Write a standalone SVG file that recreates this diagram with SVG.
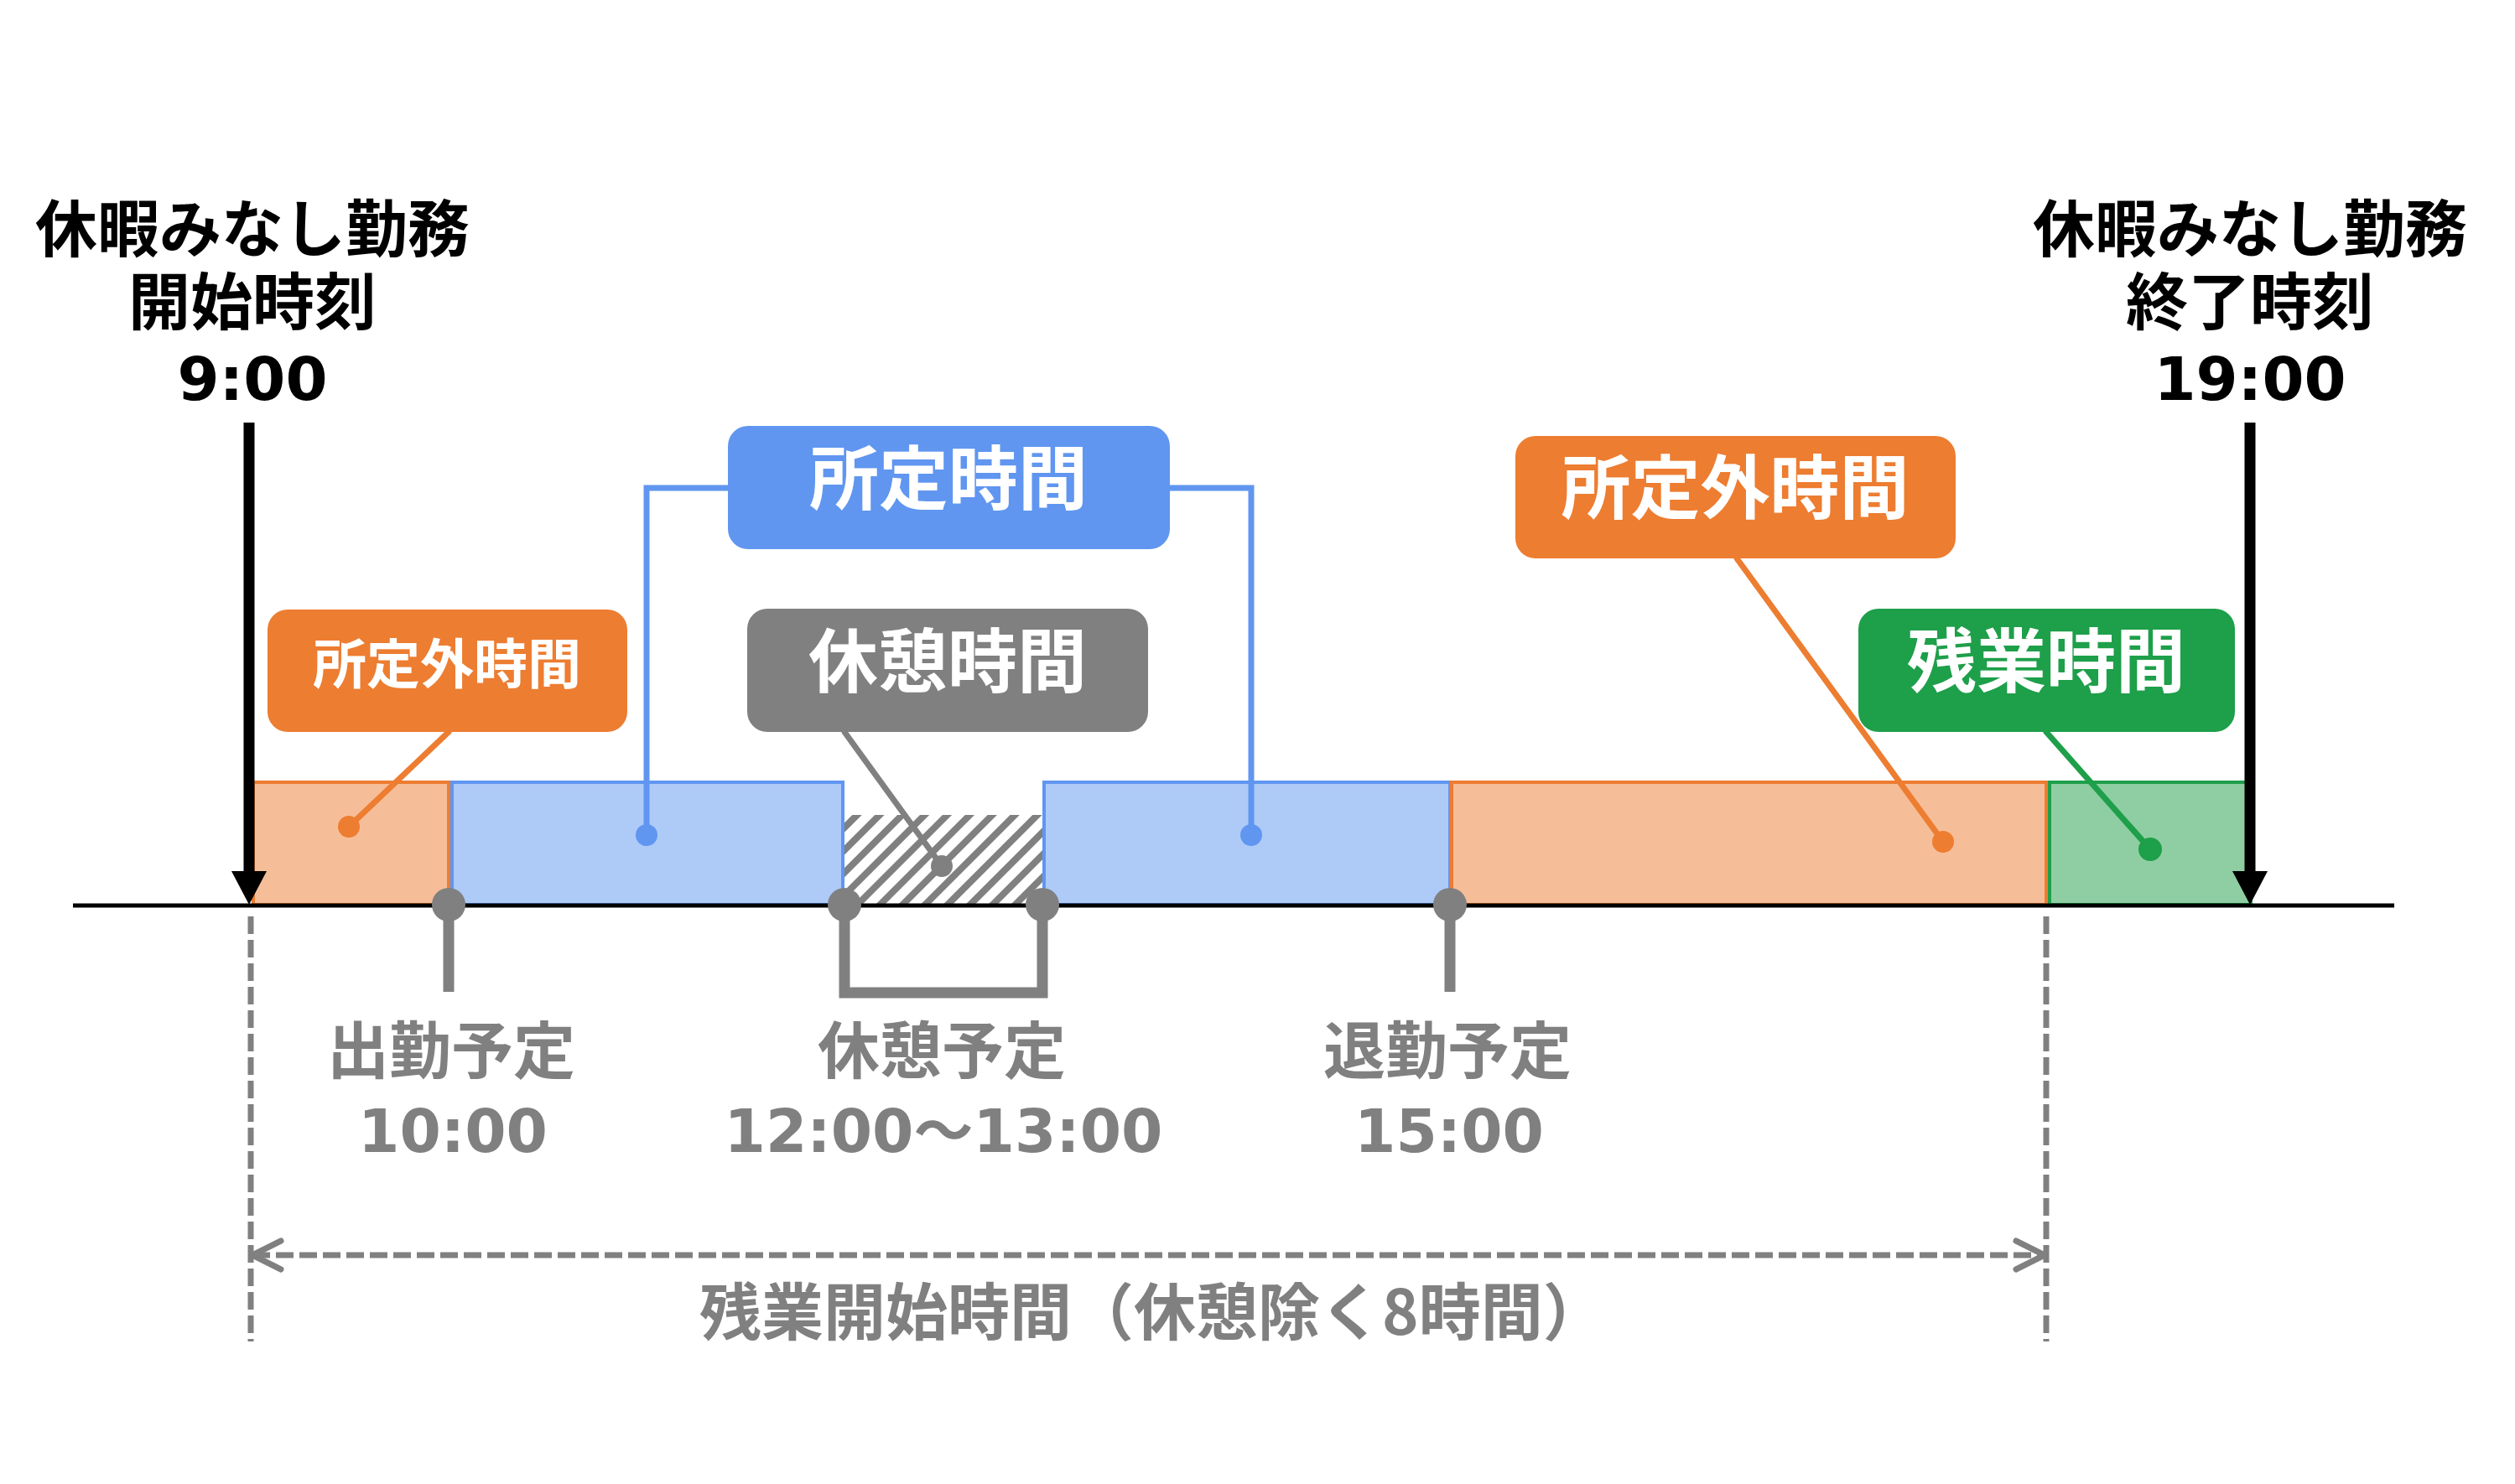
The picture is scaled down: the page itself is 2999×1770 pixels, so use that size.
<svg xmlns="http://www.w3.org/2000/svg" width="2999" height="1770" viewBox="0 0 2999 1770">
<style>
.cjk{font-family:"Noto Sans CJK JP","Noto Sans CJK SC",sans-serif;font-weight:700}
.num{font-family:"DejaVu Sans","Noto Sans CJK JP",sans-serif;font-weight:700}
.blk{fill:#000}
.gry{fill:#808080}
.wht{fill:#fff}
.lbl{font-size:83px;text-anchor:middle}
.mid{text-anchor:middle}
.bar{stroke-width:4}
.org{fill:#F6BE98;stroke:#ED7D31}
.blu{fill:#AECAF7;stroke:#6096F0}
.grn{fill:#8FCEA2;stroke:#1E9F4A}
.dotg{fill:#808080}
.conn{fill:none;stroke-width:7;stroke-linecap:round;stroke-linejoin:miter}
.dash{fill:none;stroke:#808080;stroke-width:7;stroke-dasharray:21 7}
.stem{fill:none;stroke:#808080;stroke-width:13}
</style>
<defs>
<pattern id="hatch" patternUnits="userSpaceOnUse" width="19" height="19" patternTransform="rotate(45)">
<rect x="0" y="0" width="19" height="19" fill="#fff"/>
<rect x="0" y="0" width="8" height="19" fill="#808080"/>
</pattern>
<marker id="blkArrow" markerUnits="userSpaceOnUse" viewBox="0 0 40 42" markerWidth="40" markerHeight="42" refX="1" refY="21" orient="auto">
<path d="M0,0 L40,21 L0,42 Z" fill="#000"/>
</marker>
<marker id="chev" markerUnits="userSpaceOnUse" viewBox="-44 -24 50 48" markerWidth="50" markerHeight="48" refX="0" refY="0" orient="auto-start-reverse">
<path d="M-34,-17 L0,0 L-34,17" fill="none" stroke="#808080" stroke-width="7" stroke-linecap="round" stroke-linejoin="round"/>
</marker>
</defs>
<rect width="2999" height="1770" fill="#fff"/>

<g id="bars">
<rect id="bar-orange1" class="bar org" x="302" y="933" width="233" height="146"/>
<rect id="bar-blue1" class="bar blu" x="539" y="933" width="466" height="146"/>
<rect id="bar-break" x="1007" y="972" width="236" height="107" fill="url(#hatch)"/>
<rect id="bar-blue2" class="bar blu" x="1245" y="933" width="484" height="146"/>
<rect id="bar-orange2" class="bar org" x="1731" y="933" width="709" height="146"/>
<rect id="bar-green" class="bar grn" x="2444" y="933" width="240" height="146"/>
</g>

<g id="connectors">
<path class="conn" stroke="#6096F0" stroke-width="6" d="M771,996 V582 H868"/>
<path class="conn" stroke="#6096F0" stroke-width="6" d="M1395,582 H1492 V996"/>
<line class="conn" stroke="#ED7D31" x1="535" y1="873" x2="416" y2="986"/>
<line class="conn" stroke="#808080" x1="1007" y1="873" x2="1123" y2="1033"/>
<line class="conn" stroke="#ED7D31" x1="2071" y1="666" x2="2317" y2="1004"/>
<line class="conn" stroke="#1E9F4A" x1="2440" y1="873" x2="2564" y2="1013"/>
<path class="stem" d="M535,1079 V1183"/>
<path class="stem" d="M1007,1079 V1184 H1243 V1079"/>
<path class="stem" d="M1729,1079 V1183"/>
<line class="dash" x1="299" y1="1093" x2="299" y2="1600"/>
<line class="dash" x1="2440" y1="1093" x2="2440" y2="1600"/>
<line class="dash" x1="301" y1="1497" x2="2438" y2="1497" marker-start="url(#chev)" marker-end="url(#chev)"/>
<line x1="87" y1="1080" x2="2855" y2="1080" stroke="#000" stroke-width="5"/>
<line x1="297" y1="504" x2="297" y2="1040" stroke="#000" stroke-width="13" marker-end="url(#blkArrow)"/>
<line x1="2683" y1="504" x2="2683" y2="1040" stroke="#000" stroke-width="13" marker-end="url(#blkArrow)"/>
<circle cx="771" cy="996" r="13" fill="#6096F0"/>
<circle cx="1492" cy="996" r="13" fill="#6096F0"/>
<circle cx="416" cy="986" r="13" fill="#ED7D31"/>
<circle cx="1123" cy="1033" r="13" class="dotg"/>
<circle cx="2317" cy="1004" r="13" fill="#ED7D31"/>
<circle cx="2564" cy="1013" r="14" fill="#1E9F4A"/>
<circle cx="535" cy="1079" r="20" class="dotg"/>
<circle cx="1007" cy="1079" r="20" class="dotg"/>
<circle cx="1243" cy="1079" r="20" class="dotg"/>
<circle cx="1729" cy="1079" r="20" class="dotg"/>
</g>

<g id="start-label">
<text class="cjk blk mid" x="301" y="300" font-size="74">休暇みなし勤務</text>
<text class="cjk blk mid" x="301" y="387" font-size="74">開始時刻</text>
<text class="num blk mid" x="301" y="477" font-size="72">9:00</text>
</g>
<g id="end-label">
<text class="cjk blk mid" x="2683" y="300" font-size="74">休暇みなし勤務</text>
<text class="cjk blk mid" x="2683" y="387" font-size="74">終了時刻</text>
<text class="num blk mid" x="2683" y="477" font-size="72">19:00</text>
</g>

<g id="node-shoteigai-small">
<rect x="319" y="727" width="429" height="146" rx="24" fill="#ED7D31"/>
<text class="cjk wht mid" x="533" y="815" font-size="64">所定外時間</text>
</g>
<g id="node-shotei">
<rect x="868" y="508" width="527" height="147" rx="24" fill="#6096F0"/>
<text class="cjk wht lbl" x="1131" y="601">所定時間</text>
</g>
<g id="node-kyukei">
<rect x="891" y="726" width="478" height="147" rx="24" fill="#808080"/>
<text class="cjk wht lbl" x="1130" y="819">休憩時間</text>
</g>
<g id="node-shoteigai">
<rect x="1807" y="520" width="525" height="146" rx="24" fill="#ED7D31"/>
<text class="cjk wht lbl" x="2069" y="612">所定外時間</text>
</g>
<g id="node-zangyo">
<rect x="2216" y="726" width="449" height="147" rx="24" fill="#1E9F4A"/>
<text class="cjk wht lbl" x="2440" y="819">残業時間</text>
</g>

<g id="tick-shukkin">
<text class="cjk gry mid" x="538" y="1280" font-size="74">出勤予定</text>
<text class="num gry mid" x="540" y="1374" font-size="71">10:00</text>
</g>
<g id="tick-kyukei">
<text class="cjk gry mid" x="1123" y="1280" font-size="74">休憩予定</text>
<text class="num gry mid" x="1125" y="1374" font-size="71">12:00～13:00</text>
</g>
<g id="tick-taikin">
<text class="cjk gry mid" x="1726" y="1280" font-size="74">退勤予定</text>
<text class="num gry mid" x="1728" y="1374" font-size="71">15:00</text>
</g>
<g id="span-label">
<text class="cjk gry" x="834" y="1592" font-size="74">残業開始時間（休憩除く8時間）</text>
</g>
</svg>
